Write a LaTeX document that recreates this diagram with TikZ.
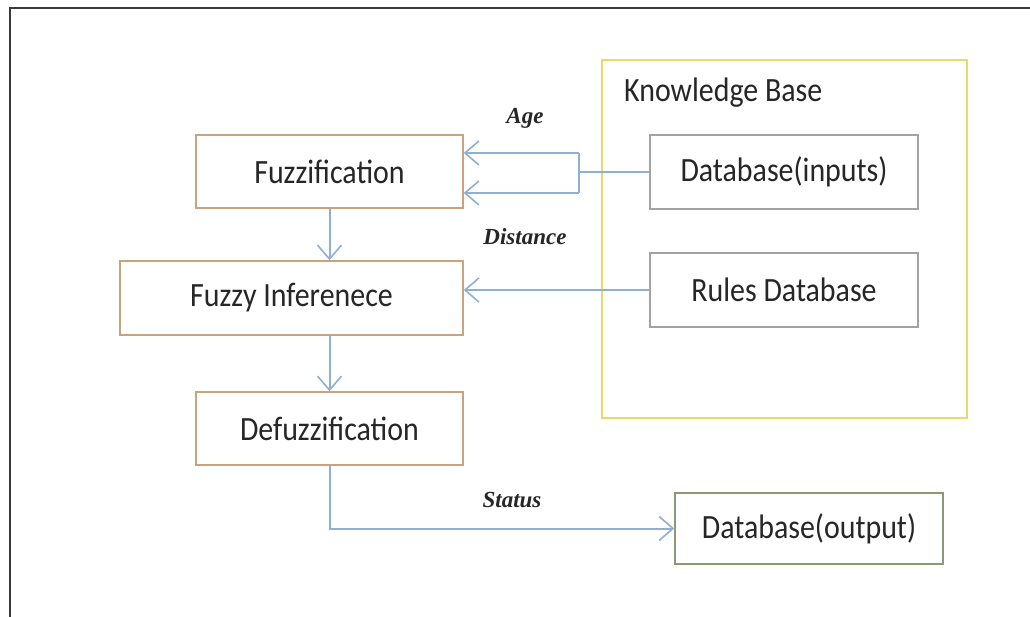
\documentclass[tikz,border=0pt]{standalone}
\usepackage{fontspec}
\setmainfont{Carlito}[FakeStretch=0.88]
\newfontfamily\lblfont{Liberation Serif}
\usetikzlibrary{arrows.meta}
\definecolor{procc}{HTML}{C9A27E}
\definecolor{arrc}{HTML}{8FB0D0}
\definecolor{kbc}{HTML}{E3DC6A}
\definecolor{dbc}{HTML}{A3A3A3}
\definecolor{outc}{HTML}{8C9A74}
\definecolor{framec}{HTML}{3A3A3A}
\begin{document}
\begin{tikzpicture}[x=1pt,y=-1pt,
  boxtxt/.style={font=\fontsize{34}{38}\selectfont, text=black!85, inner sep=0pt},
  procbox/.style={boxtxt, draw=procc, line width=1.4pt, minimum width=267pt, minimum height=73pt},
  dbbox/.style={boxtxt, draw=dbc, line width=1.4pt, minimum width=268pt, minimum height=74pt},
  outbox/.style={boxtxt, draw=outc, line width=1.4pt, minimum width=268pt, minimum height=71pt},
  kbbox/.style={draw=kbc, line width=1.8pt},
  flow/.style={draw=arrc, line width=2pt, -{Straight Barb[length=14pt,width=24pt,line width=1.6pt]}},
  link/.style={draw=arrc, line width=2pt},
  lbl/.style={font=\lblfont\bfseries\itshape\fontsize{23}{26}\selectfont, text=black!85, inner sep=0pt},
  frame/.style={draw=framec, line width=2.4pt}
]
\useasboundingbox (0,0) rectangle (1030,617);
\fill[white] (0,0) rectangle (1030,617);
\draw[frame] (10,8) rectangle (1050,640);

% knowledge base container
\draw[kbbox] (602,60) rectangle (967,418);
\node[boxtxt, anchor=west] (kbl) at (624,93) {Knowledge Base};

% process boxes
\node[procbox] (fuzz) at (329.5,171.5) {Fuzzification};
\node[procbox, minimum width=343pt, minimum height=74pt] (inf) at (291.5,298) {Fuzzy Inferenece};
\node[procbox] (defuzz) at (329.5,428.5) {Defuzzification};

% databases
\node[dbbox] (dbin) at (784,172) {Database(inputs)};
\node[dbbox] (rules) at (784,290) {Rules Database};
\node[outbox] (dbout) at (809,528.5) {Database(output)};

% junction coordinates
\coordinate (j) at (579,172);
\coordinate (jt) at (579,153);
\coordinate (jb) at (579,193);

% connectors
\draw[link] (dbin.west) -- (j);
\draw[link] (jt) -- (jb);
\draw[flow] (jt) -- (jt -| fuzz.east);
\draw[flow] (jb) -- (jb -| fuzz.east);
\draw[flow] (rules.west) -- (rules.west -| inf.east);
\draw[flow] (fuzz.south) -- (fuzz.south |- inf.north);
\draw[flow] (defuzz.north |- inf.south) -- (defuzz.north);
\draw[flow] (defuzz.south) |- (dbout.west);

% labels
\node[lbl] (age) at (525,118) {Age};
\node[lbl] (dist) at (525,237) {Distance};
\node[lbl] (stat) at (512,500) {Status};
\end{tikzpicture}
\end{document}
